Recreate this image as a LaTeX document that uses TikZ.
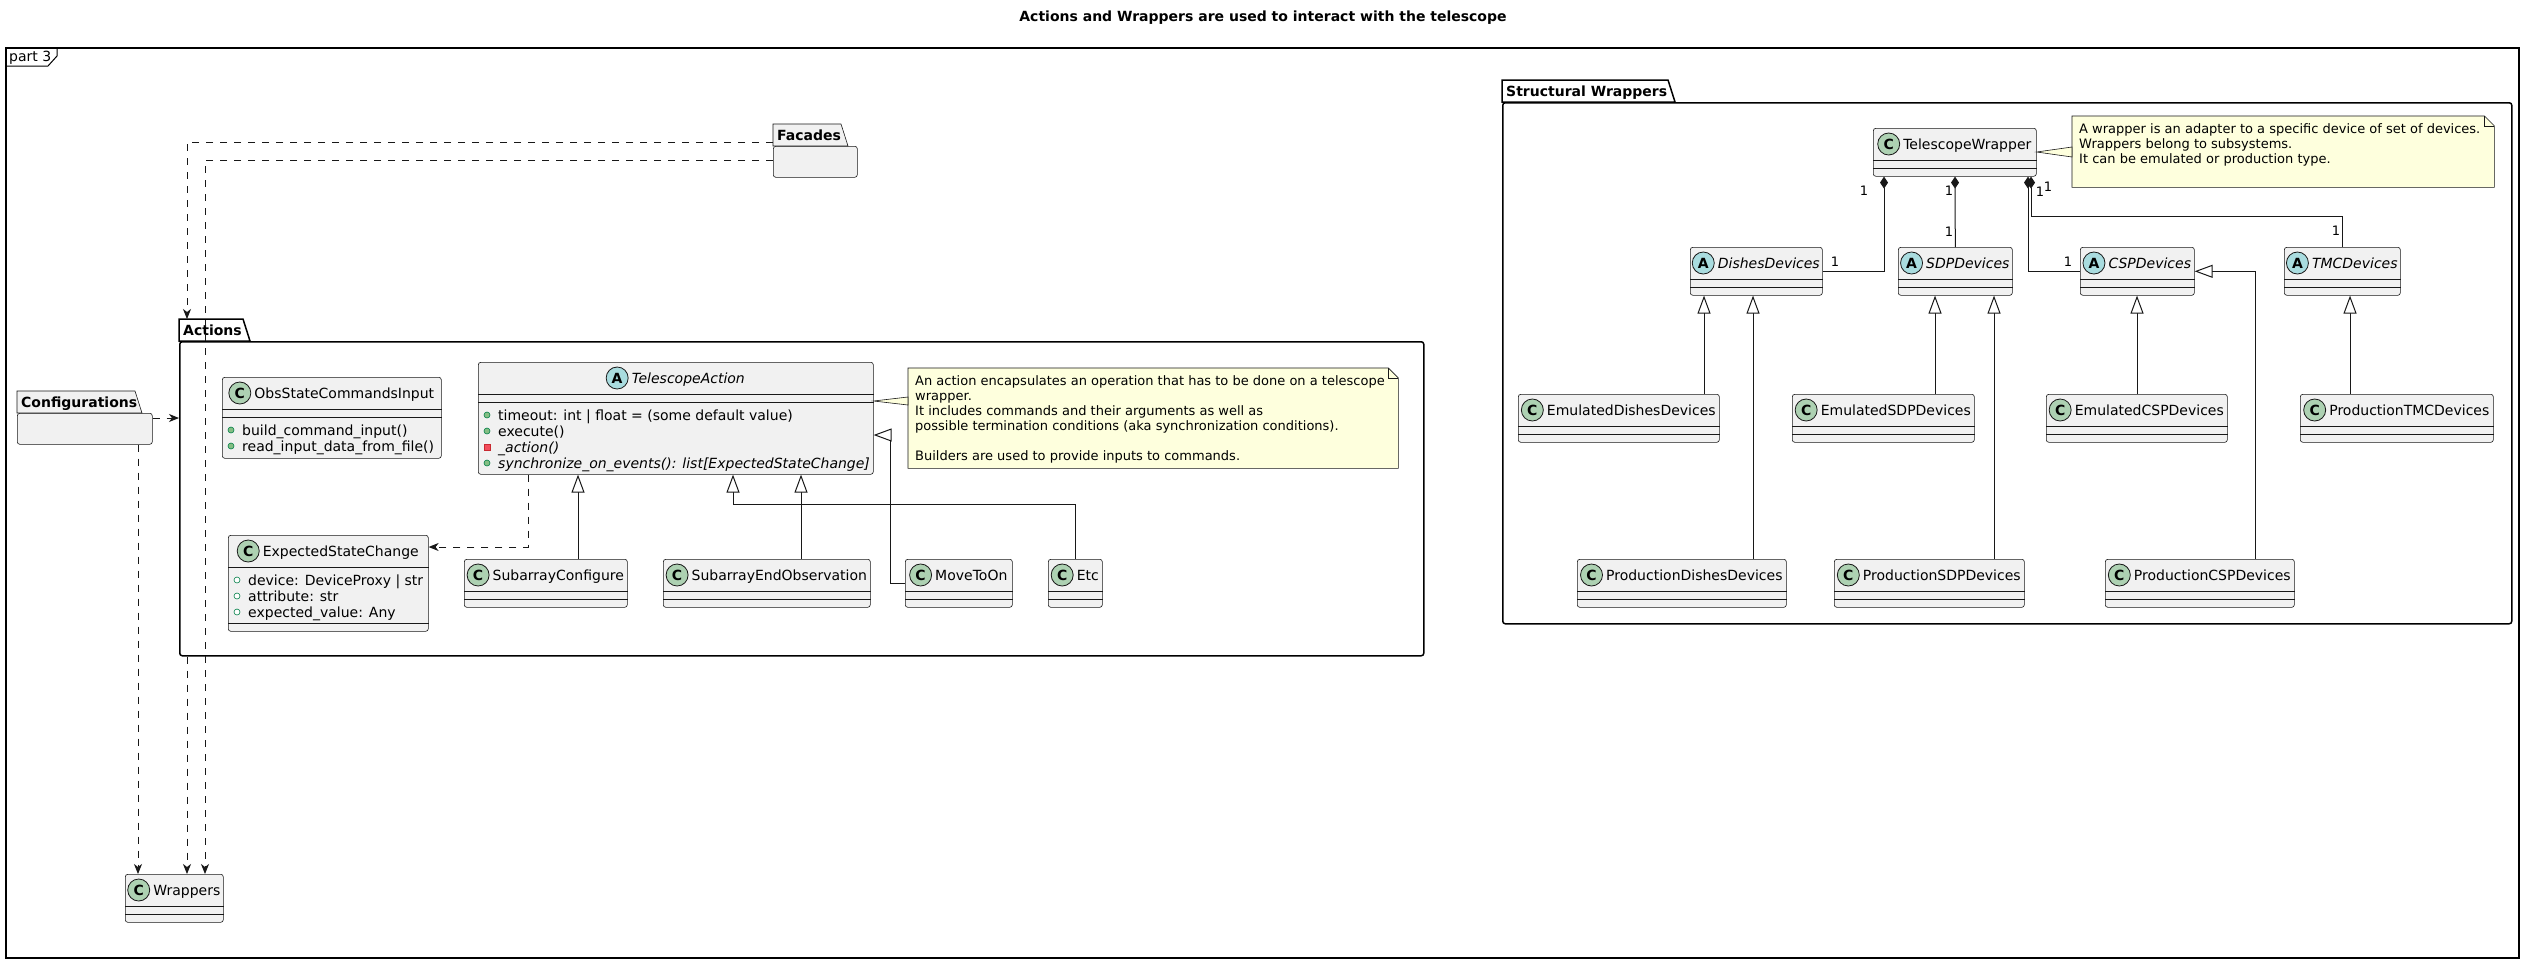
\documentclass[tikz,border=0pt]{standalone}
\usepackage{fontspec}
\setmainfont{DejaVu Sans}
\usetikzlibrary{positioning,arrows.meta}
\definecolor{clsfill}{HTML}{F1F1F1}
\definecolor{clsline}{HTML}{181818}
\definecolor{cfill}{HTML}{ADD1B2}
\definecolor{afill}{HTML}{A9DCDF}
\definecolor{notefill}{HTML}{FEFFDD}
\definecolor{pubfill}{HTML}{84BE84}
\definecolor{publine}{HTML}{038048}
\definecolor{privfill}{HTML}{F24D5C}
\definecolor{privline}{HTML}{C82930}

\tikzset{
  txt/.style={font=\fontsize{14}{16}\selectfont, inner sep=0pt},
  txtb/.style={font=\fontsize{14}{16}\selectfont\bfseries, inner sep=0pt},
  small/.style={font=\fontsize{13}{15}\selectfont, inner sep=0pt},
  cls/.style={draw=clsline, fill=clsfill, line width=0.6pt, rounded corners=2.5pt,
              anchor=north west, inner sep=0pt},
  rule/.style={draw=clsline, line width=0.6pt},
  iconC/.style={circle, draw=clsline, fill=cfill, line width=0.8pt, minimum size=22pt,
                inner sep=0pt, font=\fontsize{14}{16}\selectfont\bfseries},
  iconA/.style={iconC, fill=afill},
  pubm/.style={circle, draw=publine, fill=pubfill, line width=0.6pt, minimum size=6pt, inner sep=0pt},
  pubf/.style={pubm, fill=white},
  privm/.style={rectangle, draw=privline, fill=privfill, line width=0.6pt, minimum size=6pt, inner sep=0pt},
  member/.style={txt, anchor=base west},
  pkg/.style={draw=black, line width=1.5pt, rounded corners=2.5pt, anchor=north west, inner sep=0pt},
  pkg-tab/.style={draw=black, line width=1.5pt, fill=white},
  pkge/.style={draw=clsline, fill=clsfill, line width=0.6pt, rounded corners=2.5pt,
               anchor=north west, inner sep=0pt},
  pkge-tab/.style={draw=clsline, fill=clsfill, line width=0.6pt},
  notebox/.style={draw=clsline, fill=notefill, line width=0.6pt},
  dep/.style={draw=clsline, line width=1pt, dash pattern=on 7pt off 7pt,
              -{Stealth[length=10pt, width=8pt, inset=3pt]}},
  gen/.style={draw=clsline, line width=1pt, -{Triangle[open, length=18pt, width=13pt, fill=white]}},
  comp/.style={draw=clsline, line width=1pt, -{Diamond[length=12pt, width=8pt]}},
}

% class box: [second rule]{name}{x,y}{width}{height}{C or A}{title}
\newcommand{\umlclass}[7][40]{%
  \node[cls, minimum width=#4, minimum height=#5] (#2) at (#3) {};
  \draw[rule] ([yshift=-32]#2.north west) -- ([yshift=-32]#2.north east)
              ([yshift=-#1]#2.north west) -- ([yshift=-#1]#2.north east);
  \node[txt, anchor=base] (#2-name) at ([xshift=12.5, yshift=-21]#2.north) {\ifx A#6\itshape\fi #7};
  \node[icon#6, left=3pt of #2-name.base west, yshift=5pt] (#2-icon) {#6};
}

% members: {class}{top of the part}{marker/text,...}
\newcommand{\umlmembers}[3]{%
  \foreach \mk/\txt [count=\k] in {#3} {
    \node[\mk] (#1-i\k) at ([xshift=9, yshift={-(#2+13+16*(\k-1))}]#1.north west) {};
    \node[member] (#1-m\k) at ([xshift=20, yshift={-(#2+18+16*(\k-1))}]#1.north west) {\txt};
  }
}

% note: {name}{x,y}{width}{height}{lines}
\newcommand{\umlnote}[5]{%
  \node[anchor=north west, minimum width=#3, minimum height=#4, inner sep=0pt] (#1) at (#2) {};
  \filldraw[notebox] (#1.north west) -- ([xshift=-10]#1.north east) -- ([yshift=-10]#1.north east)
    -- (#1.south east) -- (#1.south west) -- cycle;
  \draw[notebox, fill=none] ([xshift=-10]#1.north east) |- ([yshift=-10]#1.north east);
  \foreach \ln [count=\k] in {#5}
    \node[small, anchor=base west] (#1-l\k) at ([xshift=7, yshift={-(17.5+15*(\k-1))}]#1.north west) {\ln};
}

% package: [style]{name}{x,y of body}{tab width}{width}{height}{title}
\newcommand{\umlpackage}[7][pkg]{%
  \node[#1, minimum width=#5, minimum height=#6] (#2) at (#3) {};
  \filldraw[#1-tab] (#2.north west) -- ++(0,-22) -- ++({#4-7},0) -- ([xshift=#4]#2.north west) -- cycle;
  \node[txtb, anchor=base west] (#2-name) at ([xshift=4, yshift=6]#2.north west) {#7};
}

\begin{document}
\begin{tikzpicture}[x=1pt, y=-1pt]
\useasboundingbox (0,0) rectangle (2526,962);

% --- title and frame ---
\node[txtb] (title) at (1263,18) {Actions and Wrappers are used to interact with the telescope};
\node[draw=black, line width=1.5pt, anchor=north west, minimum width=2513, minimum height=910,
      inner sep=0pt] (part) at (5,47) {};
\draw[line width=1pt] ([yshift=-19]part.north west) -- ++(43,0) -- ++(9,-10) -- ([xshift=52]part.north west);
\node[txt, anchor=base west] (part-name) at ([xshift=4, yshift=-14]part.north west) {part 3};

% --- packages ---
\umlpackage[pkge]{fac}{773,146}{75}{84}{31}{Facades}
\umlpackage[pkge]{cfg}{17,413}{125}{135}{31}{Configurations}
\umlpackage{act}{179,341}{71}{1244}{314}{Actions}
\umlpackage{sw}{1502,102}{173}{1009}{521}{Structural Wrappers}

% --- Actions ---
\umlclass{osci}{222,377}{219}{81}{C}{ObsStateCommandsInput}
\umlmembers{osci}{40}{pubm/build\_command\_input(),
  pubm/read\_input\_data\_from\_file()}
\umlclass{ta}{478,362}{395}{112}{A}{TelescopeAction}
\umlmembers{ta}{40}{pubm/{timeout: int | float = (some default value)},
  pubm/execute(),
  privm/\textit{\_action()},
  pubm/\textit{synchronize\_on\_events(): list[ExpectedStateChange]}}
\umlclass[88]{esc}{228,535}{200}{96}{C}{ExpectedStateChange}
\umlmembers{esc}{32}{pubf/{device: DeviceProxy | str},
  pubf/{attribute: str},
  pubf/{expected\_value: Any}}
\umlclass{sc}{464,559}{163}{48}{C}{SubarrayConfigure}
\umlclass{seo}{663,559}{207}{48}{C}{SubarrayEndObservation}
\umlclass{mto}{905,559}{107}{48}{C}{MoveToOn}
\umlclass{etc}{1048,559}{54}{48}{C}{Etc}
\umlnote{actnote}{908,368}{490}{100}{An action encapsulates an operation that has to be done on a telescope,
  wrapper.,
  It includes commands and their arguments as well as,
  possible termination conditions (aka synchronization conditions).,
  {},
  Builders are used to provide inputs to commands.}
\filldraw[notebox] ([yshift=-39]ta.north east) -- ([yshift=-29]actnote.north west)
  -- ([yshift=-37]actnote.north west) -- cycle;

\draw[gen] ([xshift=114]sc.north west) -- ([xshift=100]ta.south west);
\draw[gen] ([xshift=138]seo.north west) -- ([xshift=323]ta.south west);
\draw[gen] (etc.north) -- ++(0,-55) -| ([xshift=255]ta.south west);
\draw[gen] (mto.west) -- ++(-15,0) |- ([yshift=-73]ta.north east);
\draw[dep] ([xshift=50]ta.south west) |- ([yshift=-12]esc.north east);

% --- Wrappers ---
\umlclass{wr}{125,874}{98}{48}{C}{Wrappers}

\draw[dep] ([yshift=4]fac.north west) -| ([xshift=8,yshift=22]act.north west);
\draw[dep] ([yshift=-14]fac.north west) -| ([xshift=80]wr.north west);
\draw[dep] ([yshift=-5]cfg.north east) -- ([yshift=-77]act.north west);
\draw[dep] ([xshift=121]cfg.south west) -- ([xshift=13]wr.north west);
\draw[dep] ([xshift=8]act.south west) -- ([xshift=62]wr.north west);

% --- Structural Wrappers ---
\umlclass{tw}{1873,128}{163}{48}{C}{TelescopeWrapper}
\umlnote{wnote}{2072,116}{422}{71}{A wrapper is an adapter to a specific device of set of devices.,
  Wrappers belong to subsystems.,
  It can be emulated or production type.}
\filldraw[notebox] ([yshift=-24]tw.north east) -- ([yshift=-31]wnote.north west)
  -- ([yshift=-41]wnote.north west) -- cycle;

\umlclass{dd}{1690,247}{132}{48}{A}{DishesDevices}
\umlclass{sdp}{1898,247}{114}{48}{A}{SDPDevices}
\umlclass{csp}{2080,247}{114}{48}{A}{CSPDevices}
\umlclass{tmc}{2284,247}{116}{48}{A}{TMCDevices}
\umlclass{edd}{1518,394}{201}{48}{C}{EmulatedDishesDevices}
\umlclass{esdp}{1792,394}{182}{48}{C}{EmulatedSDPDevices}
\umlclass{ecsp}{2046,394}{181}{48}{C}{EmulatedCSPDevices}
\umlclass{ptmc}{2300,394}{193}{48}{C}{ProductionTMCDevices}
\umlclass{pdd}{1577,559}{209}{48}{C}{ProductionDishesDevices}
\umlclass{psdp}{1834,559}{190}{48}{C}{ProductionSDPDevices}
\umlclass{pcsp}{2105,559}{189}{48}{C}{ProductionCSPDevices}

\draw[comp] (dd.east) -| ([xshift=11]tw.south west);
\draw[comp] (sdp.north) -- ([xshift=82]tw.south west);
\draw[comp] (csp.west) -| ([xshift=155]tw.south west);
\draw[comp] (tmc.north) -- ++(0,-31) -| ([xshift=158]tw.south west);
\node[small] (m-dd-a) at (1864,191) {1};
\node[small] (m-dd-b) at (1835,262) {1};
\node[small] (m-sdp-a) at (1949,191) {1};
\node[small] (m-sdp-b) at (1949,232) {1};
\node[small] (m-csp-a) at (2040,192) {1};
\node[small] (m-csp-b) at (2068,262) {1};
\node[small] (m-tmc-a) at (2048,187) {1};
\node[small] (m-tmc-b) at (2336,231) {1};

\draw[gen] ([xshift=186]edd.north west) -- ([xshift=14]dd.south west);
\draw[gen] ([xshift=176]pdd.north west) -- ([xshift=63]dd.south west);
\draw[gen] ([xshift=143]esdp.north west) -- ([xshift=37]sdp.south west);
\draw[gen] ([xshift=160]psdp.north west) -- ([xshift=96]sdp.south west);
\draw[gen] ([xshift=91]ecsp.north west) -- ([xshift=57]csp.south west);
\draw[gen] ([xshift=150]pcsp.north west) |- (csp.east);
\draw[gen] ([xshift=50]ptmc.north west) -- ([xshift=66]tmc.south west);

\end{tikzpicture}
\end{document}
